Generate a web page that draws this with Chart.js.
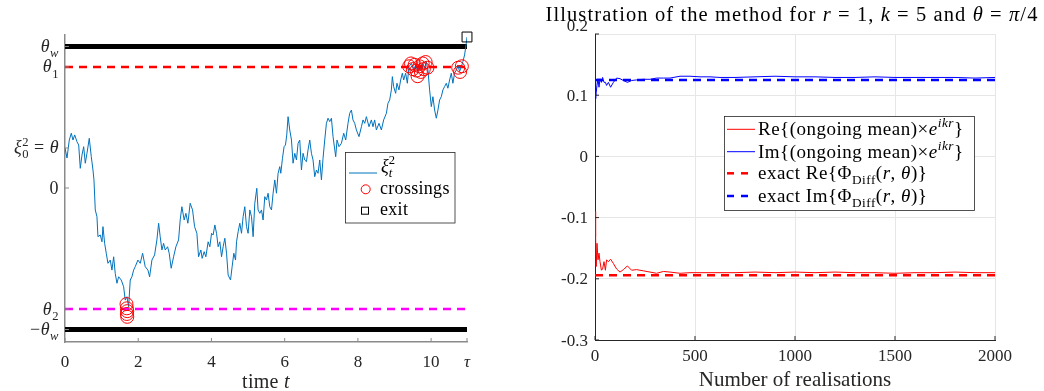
<!DOCTYPE html>
<html>
<head>
<meta charset="utf-8">
<script src="https://cdn.jsdelivr.net/npm/chart.js@4.4.0/dist/chart.umd.min.js"></script>
<style>
html, body { margin: 0; padding: 0; background: #fff; }
#walkBox { position: absolute; left: 0; top: 0; }
#convBox { position: absolute; left: 520px; top: 0; }
</style>
</head>
<body>
<div id="walkBox"><canvas id="walk" width="520" height="391"></canvas></div>
<div id="convBox"><canvas id="conv" width="524" height="391"></canvas></div>
<script>
// ---- left panel: one path of xi_t^2 ----
const TAU = 10.98;
const thW = 1, th1 = 0.855, th0 = 0.283, th2 = -0.855;

const pathT = [0,0.055,0.117,0.172,0.218,0.265,0.327,0.374,0.417,0.464,
  0.510,0.554,0.600,0.663,0.718,0.764,0.791,0.827,0.873,0.900,
  0.963,1.010,1.037,1.083,1.127,1.173,1.236,1.282,1.329,1.372,
  1.419,1.465,1.536,1.602,1.645,1.692,1.738,1.782,1.828,1.874,
  1.918,1.992,2.055,2.120,2.191,2.265,2.311,2.374,2.447,2.510,
  2.557,2.600,2.647,2.693,2.737,2.802,2.846,2.900,2.966,3.029,
  3.102,3.146,3.192,3.255,3.302,3.356,3.419,3.484,3.539,3.602,
  3.648,3.711,3.746,3.801,3.847,3.910,3.956,4.003,4.046,4.093,
  4.139,4.183,4.229,4.276,4.319,4.366,4.412,4.456,4.521,4.565,
  4.611,4.658,4.685,4.729,4.775,4.821,4.865,4.911,4.958,5.001,
  5.048,5.094,5.138,5.184,5.239,5.274,5.321,5.367,5.411,5.457,
  5.503,5.547,5.593,5.640,5.684,5.730,5.776,5.820,5.866,5.894,
  5.940,5.984,6.022,6.057,6.093,6.139,6.186,6.229,6.276,6.322,
  6.366,6.412,6.458,6.502,6.548,6.595,6.638,6.685,6.731,6.775,
  6.821,6.868,6.911,6.958,7.004,7.048,7.094,7.140,7.184,7.231,
  7.277,7.321,7.394,7.430,7.484,7.550,7.613,7.667,7.730,7.776,
  7.823,7.866,7.913,7.959,8.030,8.096,8.139,8.186,8.232,8.303,
  8.368,8.412,8.458,8.505,8.576,8.641,8.704,8.778,8.821,8.868,
  8.914,8.941,8.977,9.031,9.067,9.121,9.168,9.214,9.250,9.304,
  9.351,9.394,9.460,9.523,9.577,9.640,9.686,9.733,9.776,9.823,
  9.869,9.913,9.959,10.005,10.049,10.096,10.142,10.186,10.232,10.278,
  10.322,10.368,10.415,10.458,10.505,10.551,10.595,10.641,10.688,10.731,
  10.778,10.824,10.868,10.914,10.960,10.982];
const pathV = [0.283,0.212,0.339,0.387,0.339,0.375,0.327,0.304,0.139,0.233,
  0.292,0.175,0.245,0.351,0.221,0.127,0.057,-0.155,-0.203,-0.344,
  -0.332,-0.380,-0.273,-0.391,-0.461,-0.532,-0.509,-0.580,-0.486,-0.603,
  -0.673,-0.627,-0.650,-0.698,-0.792,-0.768,-0.839,-0.650,-0.627,-0.580,
  -0.556,-0.509,-0.532,-0.461,-0.556,-0.580,-0.627,-0.509,-0.473,-0.367,
  -0.249,-0.344,-0.438,-0.391,-0.438,-0.415,-0.461,-0.567,-0.486,-0.415,
  -0.367,-0.226,-0.132,-0.226,-0.179,-0.249,-0.108,-0.155,-0.273,-0.320,
  -0.486,-0.438,-0.497,-0.450,-0.486,-0.380,-0.415,-0.320,-0.332,-0.261,
  -0.320,-0.415,-0.380,-0.486,-0.415,-0.355,-0.461,-0.615,-0.650,-0.556,
  -0.461,-0.509,-0.380,-0.309,-0.249,-0.320,-0.203,-0.132,-0.273,-0.320,
  -0.155,-0.203,-0.344,-0.108,-0.002,-0.155,-0.179,-0.155,-0.226,-0.061,
  -0.085,-0.037,-0.132,-0.155,-0.037,0.057,-0.037,0.104,0.151,0.104,
  0.210,0.292,0.304,0.375,0.504,0.410,0.339,0.175,0.245,0.198,
  0.316,0.339,0.127,0.245,0.198,0.186,0.269,0.339,0.245,0.198,
  0.080,0.127,0.104,0.198,0.057,0.210,0.339,0.457,0.493,0.469,
  0.493,0.363,0.221,0.339,0.292,0.316,0.387,0.339,0.457,0.528,
  0.551,0.481,0.457,0.410,0.363,0.433,0.481,0.457,0.504,0.433,
  0.481,0.433,0.481,0.410,0.457,0.410,0.481,0.528,0.599,0.622,
  0.693,0.787,0.716,0.669,0.740,0.693,0.763,0.811,0.763,0.811,
  0.740,0.857,0.881,0.834,0.869,0.822,0.857,0.834,0.881,0.846,
  0.893,0.834,0.693,0.575,0.645,0.551,0.493,0.551,0.622,0.645,
  0.693,0.716,0.740,0.705,0.763,0.811,0.740,0.811,0.834,0.869,
  0.822,0.857,0.893,0.940,1.023,1.067];

const crossT = [1.68,1.69,1.70,1.69,1.70, 9.40,9.45,9.50,9.55,9.60,9.63,9.68,9.72,9.77,9.80,9.85,9.90, 10.74,10.79,10.84];
const crossV = [-0.82,-0.85,-0.87,-0.89,-0.91, 0.86,0.88,0.84,0.87,0.83,0.79,0.86,0.82,0.88,0.84,0.89,0.85, 0.85,0.82,0.86];
const exitT = [10.98];
const exitV = [1.067];

const yTickVals = [thW, th1, th0, 0, th2, -thW];
const yTickText = [
  [['θ','i'],['w','ib']],
  [['θ','i'],['1','b']],
  [['ξ','i'],['0','b'],['2','p',1],[' = ','r'],['θ','i']],
  [['0','r']],
  [['θ','i'],['2','b']],
  [['−','r'],['θ','i'],['w','ib']]
];
const xTickVals = [0, 2, 4, 6, 8, 10, TAU];
const xTickText = [[['0','r']],[['2','r']],[['4','r']],[['6','r']],[['8','r']],[['10','r']],[['τ','i']]];

// ---- right panel: ongoing means ----
const nReal = [1,3,6,10,15,20,25,32,38,45,52,58,67,78,92,108,125,142,162,183,
  208,242,275,308,342,375,425,475,525,575,625,700,800,900,1000,1100,1200,1300,1400,1500,
  1600,1700,1800,1900,2000];
const reMean = [-0.090,-0.131,-0.180,-0.142,-0.169,-0.158,-0.172,-0.186,-0.184,-0.172,
  -0.186,-0.169,-0.172,-0.168,-0.175,-0.184,-0.189,-0.185,-0.179,-0.186,
  -0.185,-0.187,-0.189,-0.191,-0.188,-0.189,-0.191,-0.190,-0.190,-0.190,
  -0.190,-0.190,-0.189,-0.190,-0.189,-0.190,-0.189,-0.190,-0.190,-0.191,
  -0.190,-0.190,-0.189,-0.190,-0.190];
const imMean = [0.124,0.094,0.105,0.116,0.127,0.113,0.127,0.121,0.129,0.121,
  0.121,0.116,0.121,0.113,0.121,0.128,0.127,0.124,0.121,0.124,
  0.125,0.126,0.126,0.128,0.128,0.128,0.131,0.131,0.130,0.130,
  0.129,0.129,0.130,0.131,0.130,0.130,0.129,0.129,0.130,0.129,
  0.129,0.129,0.129,0.128,0.129];
const exactRe = -0.194;
const exactIm = 0.125;
const convYTicks = [0.2, 0.1, 0, -0.1, -0.2, -0.3];
const convYText = ['0.2', '0.1', '0', '-0.1', '-0.2', '-0.3'];

const SERIF = '"Liberation Serif"';
const INK = '#262626';

// text with italic parts, sub- and superscripts
function rich(ctx, x, y, parts, size, align, color, spacing) {
  const items = [];
  let w = 0, lastStart = 0;
  ctx.save();
  ctx.letterSpacing = (spacing || 0) + 'px';
  parts.forEach(function (p) {
    const txt = p[0], st = p[1], stack = p[2];
    const sub = st.indexOf('b') >= 0, sup = st.indexOf('p') >= 0;
    const font = (st.indexOf('i') >= 0 ? 'italic ' : '') + ((sub || sup) ? size * 0.7 : size) + 'px ' + SERIF;
    ctx.font = font;
    const tw = ctx.measureText(txt).width;
    const start = stack ? lastStart : w;
    const dy = sub ? size * 0.28 : (sup ? -size * 0.42 : 0);
    items.push({ txt: txt, font: font, start: start, dy: dy });
    if (!stack) lastStart = start;
    w = Math.max(w, start + tw);
  });
  let x0 = x;
  if (align === 'right') x0 = x - w;
  else if (align === 'center') x0 = x - w / 2;
  ctx.fillStyle = color || INK;
  ctx.textAlign = 'left';
  ctx.textBaseline = 'alphabetic';
  items.forEach(function (it) {
    ctx.font = it.font;
    ctx.fillText(it.txt, x0 + it.start, y + it.dy);
  });
  ctx.restore();
}

function seg(ctx, x1, y1, x2, y2, color, width, dash) {
  ctx.save();
  ctx.strokeStyle = color;
  ctx.lineWidth = width;
  ctx.setLineDash(dash || []);
  ctx.beginPath();
  ctx.moveTo(x1, y1);
  ctx.lineTo(x2, y2);
  ctx.stroke();
  ctx.restore();
}

function pts(xs, ys) { return xs.map(function (v, i) { return { x: v, y: ys[i] }; }); }
function hline(v, x1, x2) { return [{ x: x1, y: v }, { x: x2, y: v }]; }

const walkDecor = {
  id: 'walkDecor',
  afterDraw(chart) {
    const ctx = chart.ctx, a = chart.chartArea;
    const xs = chart.scales.x, ys = chart.scales.y;
    yTickVals.forEach(function (v, i) {
      const py = ys.getPixelForValue(v);
      seg(ctx, a.left, py, a.left + 4, py, '#8a8a8a', 1);
      rich(ctx, 59, py + 5.5, yTickText[i], 18, 'right', INK, 0.5);
    });
    xTickVals.forEach(function (v, i) {
      const px = xs.getPixelForValue(v);
      seg(ctx, px, a.bottom, px, a.bottom - 4, '#8a8a8a', 1);
      rich(ctx, px, 366.5, xTickText[i], 17, 'center');
    });
    rich(ctx, (a.left + a.right) / 2, 388, [['time ','r'],['t','i']], 20, 'center', INK, 0.3);
    // legend
    ctx.save();
    ctx.fillStyle = '#fff';
    ctx.fillRect(345.5, 152.5, 109.5, 70.5);
    ctx.strokeStyle = INK;
    ctx.lineWidth = 0.8;
    ctx.strokeRect(345.5, 152.5, 109.5, 70.5);
    ctx.restore();
    seg(ctx, 349, 173, 377, 173, '#0072BD', 1);
    rich(ctx, 381, 172, [['ξ','i'],['t','ib'],['2','p',1]], 18, 'left', '#000');
    ctx.save();
    ctx.strokeStyle = '#ff0000';
    ctx.lineWidth = 1;
    ctx.beginPath();
    ctx.arc(365.7, 189.3, 4.5, 0, Math.PI * 2);
    ctx.stroke();
    ctx.strokeStyle = '#000';
    ctx.strokeRect(361.5, 207.2, 7, 7);
    ctx.restore();
    rich(ctx, 380, 193.5, [['crossings','r']], 18, 'left', '#000', 0.3);
    rich(ctx, 380, 215, [['exit','r']], 18, 'left', '#000', 0.3);
  }
};

new Chart(document.getElementById('walk'), {
  type: 'line',
  data: {
    datasets: [
      { data: pts(crossT, crossV), showLine: false, pointStyle: 'circle', pointRadius: 6.5,
        pointBorderColor: '#ff0000', pointBackgroundColor: 'rgba(0,0,0,0)', pointBorderWidth: 1, clip: false },
      { data: pts(exitT, exitV), showLine: false, pointStyle: 'rect', pointRadius: 7,
        pointBorderColor: '#000', pointBackgroundColor: 'rgba(0,0,0,0)', pointBorderWidth: 1, clip: false },
      { data: pts(pathT, pathV), borderColor: '#0072BD', borderWidth: 1, pointRadius: 0 },
      { data: hline(th1, 0, TAU), borderColor: '#ff0000', borderWidth: 2.5, borderDash: [8, 6], pointRadius: 0 },
      { data: hline(th2, 0, TAU), borderColor: '#ff00ff', borderWidth: 2.5, borderDash: [8, 6], pointRadius: 0 },
      { data: hline(thW, 0, TAU), borderColor: '#000', borderWidth: 5, pointRadius: 0 },
      { data: hline(-thW, 0, TAU), borderColor: '#000', borderWidth: 5, pointRadius: 0 }
    ]
  },
  options: {
    responsive: false,
    animation: false,
    events: [],
    layout: { padding: { left: 0, right: 53, top: 35, bottom: 0 } },
    plugins: { legend: { display: false }, tooltip: { enabled: false } },
    scales: {
      x: { type: 'linear', min: 0, max: TAU, ticks: { display: false }, grid: { display: false },
           border: { color: '#8a8a8a', width: 1.5 }, afterFit(s) { s.height = 49; } },
      y: { type: 'linear', min: -1.088, max: 1.081, ticks: { display: false }, grid: { display: false },
           border: { color: '#8a8a8a', width: 1.5 }, afterFit(s) { s.width = 65; } }
    }
  },
  plugins: [walkDecor]
});

const convDecor = {
  id: 'convDecor',
  afterDraw(chart) {
    const ctx = chart.ctx, a = chart.chartArea;
    const xs = chart.scales.x, ys = chart.scales.y;
    convYTicks.forEach(function (v, i) {
      const py = ys.getPixelForValue(v);
      seg(ctx, a.left, py, a.left + 4, py, INK, 1);
      rich(ctx, 68, py + 5.5 - (i === 0 ? 9 : 0), [[convYText[i], 'r']], 17, 'right');
    });
    xs.ticks.forEach(function (t) {
      const px = xs.getPixelForValue(t.value);
      seg(ctx, px, a.bottom, px, a.bottom - 4, INK, 1);
    });
    rich(ctx, 272, 21, [['Illustration of the method for ','r'],['r','i'],[' = 1, ','r'],['k','i'],
      [' = 5 and ','r'],['θ','i'],[' = ','r'],['π','i'],['/4','r']], 20.5, 'center', '#000', 1.1);
    // legend
    ctx.save();
    ctx.fillStyle = '#fff';
    ctx.fillRect(204.5, 116.5, 250, 94);
    ctx.strokeStyle = INK;
    ctx.lineWidth = 0.8;
    ctx.strokeRect(204.5, 116.5, 250, 94);
    ctx.restore();
    seg(ctx, 207, 129.3, 235, 129.3, '#ff0000', 1);
    seg(ctx, 207, 151.7, 235, 151.7, '#0000ff', 1);
    seg(ctx, 207, 173.3, 235, 173.3, '#ff0000', 2.5, [7, 7]);
    seg(ctx, 207, 196, 235, 196, '#0000ff', 2.5, [7, 7]);
    rich(ctx, 238, 135, [['Re{(ongoing mean)×','r'],['e','i'],['ikr','ip'],['}','r']], 19, 'left', '#000', 0.5);
    rich(ctx, 238, 157.5, [['Im{(ongoing mean)×','r'],['e','i'],['ikr','ip'],['}','r']], 19, 'left', '#000', 0.5);
    rich(ctx, 238, 179, [['exact Re{Φ','r'],['Diff','b'],['(','r'],['r','i'],[', ','r'],['θ','i'],[')}','r']], 19, 'left', '#000', 0.5);
    rich(ctx, 238, 201.5, [['exact Im{Φ','r'],['Diff','b'],['(','r'],['r','i'],[', ','r'],['θ','i'],[')}','r']], 19, 'left', '#000', 0.5);
  }
};

new Chart(document.getElementById('conv'), {
  type: 'line',
  data: {
    datasets: [
      { data: pts(nReal, reMean), borderColor: '#ff0000', borderWidth: 1, pointRadius: 0 },
      { data: pts(nReal, imMean), borderColor: '#0000ff', borderWidth: 1, pointRadius: 0 },
      { data: hline(exactRe, 0, 2000), borderColor: '#ff0000', borderWidth: 2.5, borderDash: [8, 6], pointRadius: 0 },
      { data: hline(exactIm, 0, 2000), borderColor: '#0000ff', borderWidth: 2.5, borderDash: [8, 6], pointRadius: 0 }
    ]
  },
  options: {
    responsive: false,
    animation: false,
    events: [],
    layout: { padding: { left: 0, right: 49, top: 34, bottom: 0 } },
    plugins: { legend: { display: false }, tooltip: { enabled: false } },
    scales: {
      x: { type: 'linear', min: 0, max: 2000,
           ticks: { stepSize: 500, padding: 6, maxRotation: 0, color: INK, font: { family: SERIF, size: 17 },
                    callback: function (v) { return String(v); } },
           grid: { color: '#e6e6e6', drawTicks: false },
           border: { color: INK, width: 1 },
           title: { display: true, text: 'Number of realisations', color: INK, padding: 0,
                    font: { family: SERIF, size: 21, lineHeight: 1 } },
           afterFit(s) { s.height = 51; } },
      y: { type: 'linear', min: -0.3, max: 0.2, ticks: { stepSize: 0.1, display: false },
           grid: { color: '#e6e6e6', drawTicks: false },
           border: { color: INK, width: 1 },
           afterFit(s) { s.width = 75; } }
    }
  },
  plugins: [convDecor]
});
</script>
</body>
</html>
